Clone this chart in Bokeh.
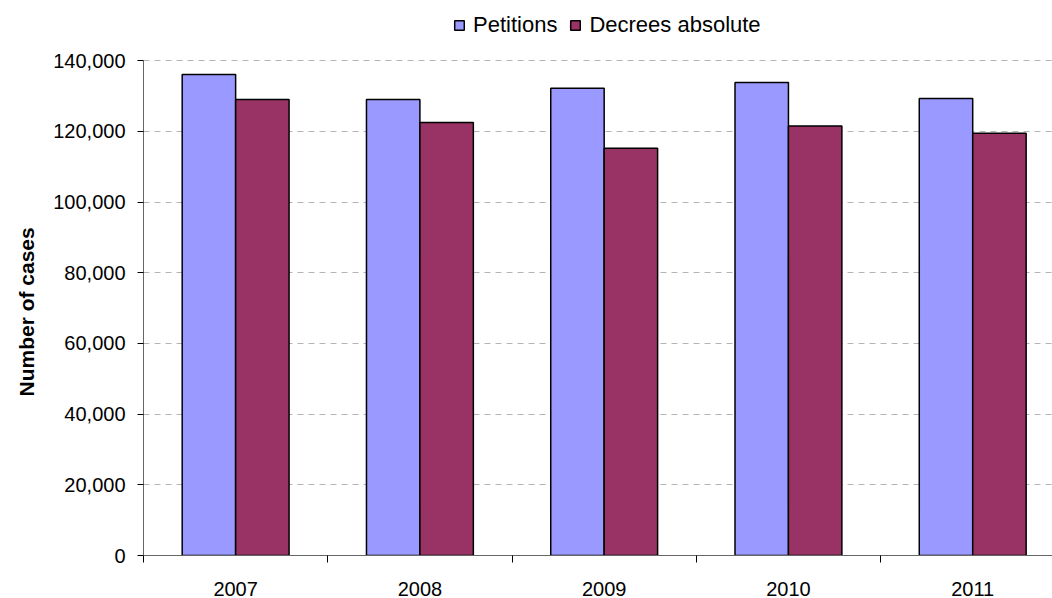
import numpy as np
from bokeh.plotting import figure
from bokeh.models import (ColumnDataSource, Range1d, FixedTicker,
                          NumeralTickFormatter, Legend, LegendItem, Title)
from bokeh.transform import dodge
from bokeh.embed import file_html
from bokeh.resources import INLINE

years = ["2007", "2008", "2009", "2010", "2011"]
petitions = [136100, 129000, 132200, 133800, 129300]
decrees = [129000, 122500, 115200, 121500, 119500]
y_ticks = [0, 20000, 40000, 60000, 80000, 100000, 120000, 140000]
y_title = "Number of cases"

FONT = "Liberation Sans"
centers = [i + 0.5 for i in range(len(years))]

src = ColumnDataSource(dict(x=centers, petitions=petitions, decrees=decrees))

# frame spans the full height; the value axis itself stops at 140,000
W, H = 1052, 598
BOTTOM = 41
axis_px = 496.6  # pixel length of 0..140,000
y_top = 140000 * (H - BOTTOM) / axis_px

p = figure(width=W, height=H, output_backend="svg", toolbar_location=None,
           x_range=Range1d(0, 4.933), y_range=Range1d(0, y_top),
           min_border_left=143, min_border_right=0, min_border_top=0, min_border_bottom=BOTTOM)
p.outline_line_color = None
p.background_fill_color = "white"
p.border_fill_color = "white"

bw = 0.29
r1 = p.vbar(x=dodge("x", -bw / 2, range=p.x_range), top="petitions", width=bw, source=src,
            fill_color="#9999FF", line_color="black", line_width=1.5)
r2 = p.vbar(x=dodge("x", bw / 2, range=p.x_range), top="decrees", width=bw, source=src,
            fill_color="#993366", line_color="black", line_width=1.5)

# x axis
xa = p.xaxis[0]
xa.ticker = FixedTicker(ticks=centers, minor_ticks=list(range(len(years) + 1)))
xa.major_label_overrides = {c: y for c, y in zip(centers, years)}
xa.major_tick_out = 0
xa.major_tick_in = 0
xa.minor_tick_out = 7
xa.minor_tick_in = 0
xa.minor_tick_line_color = "black"
xa.axis_line_color = "#666666"
xa.major_label_standoff = 19
xa.major_label_text_font = FONT
xa.major_label_text_font_size = "20px"
xa.major_label_text_color = "black"

# y axis
ya = p.yaxis[0]
ya.ticker = FixedTicker(ticks=y_ticks, minor_ticks=[])
ya.bounds = (0, max(y_ticks))
ya.formatter = NumeralTickFormatter(format="0,0")
ya.major_tick_out = 6
ya.major_tick_in = 0
ya.minor_tick_out = 0
ya.minor_tick_in = 0
ya.major_tick_line_color = "black"
ya.axis_line_color = "#666666"
ya.major_label_standoff = 12
ya.major_label_text_font = FONT
ya.major_label_text_font_size = "20px"
ya.major_label_text_color = "black"

# y axis title, centred on the value axis (0..140,000) rather than the whole frame
yt = Title(text=y_title, align="left", offset=159, standoff=25,
           text_font=FONT, text_font_size="21px", text_font_style="bold",
           text_color="black")
p.add_layout(yt, "left")

p.xgrid.grid_line_color = None
p.ygrid.grid_line_color = "#b4b4b4"
p.ygrid.grid_line_dash = "6 5"
p.ygrid.grid_line_width = 1

legend = Legend(items=[LegendItem(label="Petitions", renderers=[r1]),
                       LegendItem(label="Decrees absolute", renderers=[r2])],
                orientation="horizontal", location=(310, 517))
legend.border_line_color = None
legend.background_fill_alpha = 0
legend.label_text_font = FONT
legend.label_text_font_size = "22px"
legend.label_text_color = "black"
legend.glyph_width = 12
legend.glyph_height = 12
legend.label_standoff = 8
legend.spacing = 12
legend.padding = 2
legend.margin = 0
p.add_layout(legend)

open("out.html", "w").write(file_html(p, INLINE))
